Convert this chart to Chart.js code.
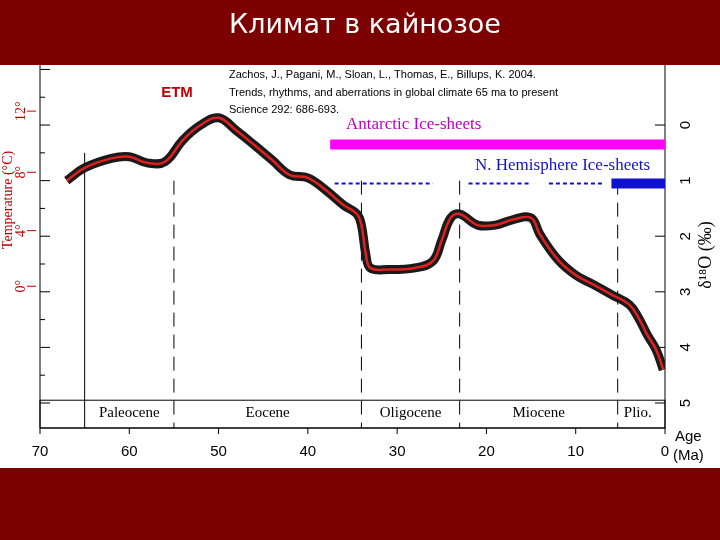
<!DOCTYPE html>
<html><head><meta charset="utf-8">
<script src="https://cdn.jsdelivr.net/npm/chart.js@4"></script>
<style>html,body{margin:0;padding:0;background:#7d0000}</style>
</head><body>
<canvas id="c" width="720" height="540" style="width:720px;height:540px"></canvas>
<script>
// ---------------- DATA ----------------
const ages = [67, 65, 62, 60, 58, 56, 54, 52, 50, 48, 46, 44, 42, 40, 38, 36, 34.5, 34, 33.5, 33, 31, 28, 26, 25, 24, 23, 21, 19, 17, 15, 14, 12, 10, 8, 6, 4, 3, 2, 1, 0.2];
const d18O = [1.0, 0.77, 0.6, 0.57, 0.68, 0.66, 0.27, 0.0, -0.13, 0.1, 0.36, 0.63, 0.9, 0.95, 1.17, 1.44, 1.6, 1.8, 2.33, 2.57, 2.6, 2.57, 2.45, 2.07, 1.67, 1.6, 1.8, 1.8, 1.7, 1.67, 1.97, 2.42, 2.7, 2.87, 3.05, 3.23, 3.46, 3.77, 4.04, 4.4];
const xTicks = [70, 60, 50, 40, 30, 20, 10, 0];
const yTicks = [0, 1, 2, 3, 4, 5];
const tempLabels = ["0°", "4°", "8°", "12°"];
const tempAt = [2.9, 1.9, 0.85, -0.25];
const epochs = ["Paleocene", "Eocene", "Oligocene", "Miocene", "Plio."];
const epochBounds = [65, 55, 34, 23, 5.3, 0.8];
const dashedAges = [55, 34, 23, 5.3];
const antarcticIce = [37.5, 0];
const northIceDashed = [[37, 26], [22, 15], [13, 7]];
const northIce = [6, 0];

const pts = ages.map((a, i) => ({x: a, y: d18O[i]}));
const seg = (a, b, y) => [{x: a, y: y}, {x: b, y: y}];

const deco = {
  id: "deco",
  beforeDraw(ch) {
    const c = ch.ctx, xs = ch.scales.x, ys = ch.scales.y;
    c.save();
    c.fillStyle = "#7d0000"; c.fillRect(0, 0, 720, 540);
    c.fillStyle = "#fff"; c.fillRect(0, 65, 720, 403);
    c.font = "27px 'DejaVu Sans'"; c.textAlign = "center";
    c.fillText("Климат в кайнозое", 365, 33);
    c.strokeStyle = "#000"; c.lineWidth = 1;
    // epoch band
    const yb1 = ys.getPixelForValue(4.95), yb2 = ys.getPixelForValue(5.45);
    c.strokeRect(xs.left, yb1, xs.right - xs.left, yb2 - yb1);
    c.font = "15px 'Liberation Serif'"; c.fillStyle = "#000";
    for (let i = 0; i < epochs.length; i++) {
      const x1 = xs.getPixelForValue(epochBounds[i]), x2 = xs.getPixelForValue(epochBounds[i + 1]);
      c.fillText(epochs[i], (x1 + x2) / 2, yb1 + 17);
    }
    // vertical lines
    c.beginPath();
    c.moveTo(xs.getPixelForValue(65), ys.getPixelForValue(0.5));
    c.lineTo(xs.getPixelForValue(65), yb2); c.stroke();
    c.setLineDash([14, 8]);
    dashedAges.forEach(a => {
      const x = xs.getPixelForValue(a);
      c.beginPath(); c.moveTo(x, ys.getPixelForValue(1)); c.lineTo(x, yb2); c.stroke();
    });
    c.setLineDash([]);
    // left axis
    c.beginPath(); c.moveTo(xs.left, ch.chartArea.top); c.lineTo(xs.left, yb2); c.stroke();
    for (let v = -1; v <= 5; v += 0.5) {
      const y = ys.getPixelForValue(v);
      c.beginPath(); c.moveTo(xs.left, y); c.lineTo(xs.left + (v % 1 === 0 ? 10 : 5), y); c.stroke();
    }
    // right axis
    c.beginPath(); c.moveTo(xs.right, ch.chartArea.top); c.lineTo(xs.right, yb2); c.stroke();
    c.font = "15px 'Liberation Sans'";
    yTicks.forEach(v => {
      const y = ys.getPixelForValue(v);
      c.beginPath(); c.moveTo(xs.right, y); c.lineTo(xs.right - 10, y); c.stroke();
      c.save(); c.translate(xs.right + 20, y); c.rotate(-Math.PI / 2); c.fillText(String(v), 0, 5); c.restore();
    });
    c.save(); c.translate(705, 255); c.rotate(-Math.PI / 2);
    c.font = "18px 'Liberation Serif'"; c.fillText("δ¹⁸O (‰)", 0, 6); c.restore();
    // x axis
    c.beginPath(); c.moveTo(xs.left, yb2); c.lineTo(xs.right, yb2); c.stroke();
    c.font = "15px 'Liberation Sans'";
    xTicks.forEach(v => {
      const x = xs.getPixelForValue(v);
      c.beginPath(); c.moveTo(x, yb2); c.lineTo(x, yb2 + 6); c.stroke();
      c.fillText(String(v), x, yb2 + 28);
    });
    c.textAlign = "left"; c.fillText("Age", 675, 441); c.fillText("(Ma)", 673, 460);
    // temperature axis
    c.fillStyle = "#c00000"; c.strokeStyle = "#c00000";
    c.textAlign = "center"; c.font = "14px 'Liberation Serif'";
    tempLabels.forEach((t, i) => {
      const y = ys.getPixelForValue(tempAt[i]);
      c.save(); c.translate(20, y); c.rotate(-Math.PI / 2); c.fillText(t, 0, 5); c.restore();
      c.beginPath(); c.moveTo(27, y); c.lineTo(36, y); c.stroke();
    });
    c.save(); c.translate(7, 200); c.rotate(-Math.PI / 2); c.fillText("Temperature (°C)", 0, 5); c.restore();
    // labels
    c.font = "bold 15px 'Liberation Sans'"; c.fillText("ETM", 177, 97);
    c.textAlign = "left"; c.fillStyle = "#000"; c.font = "11px 'Liberation Sans'";
    c.fillText("Zachos, J., Pagani, M., Sloan, L., Thomas, E., Billups, K. 2004.", 229, 78);
    c.fillText("Trends, rhythms, and aberrations in global climate 65 ma to present", 229, 96);
    c.fillText("Science 292: 686-693.", 229, 113);
    c.font = "17px 'Liberation Serif'";
    c.fillStyle = "#c000c0"; c.fillText("Antarctic Ice-sheets", 346, 129);
    c.fillStyle = "#1010d0"; c.fillText("N. Hemisphere Ice-sheets", 475, 170);
    c.restore();
  }
};

new Chart(document.getElementById("c"), {
  type: "line",
  data: {
    datasets: [
      {data: pts, borderColor: "#e02020", borderWidth: 2.5, pointRadius: 0, tension: 0.4},
      {data: pts, borderColor: "#1a1a1a", borderWidth: 9, pointRadius: 0, tension: 0.4},
      {data: seg(antarcticIce[0], antarcticIce[1], 0.35), borderColor: "#ff00ff", borderWidth: 10, pointRadius: 0},
      ...northIceDashed.map(s => ({data: seg(s[0], s[1], 1.05), borderColor: "#1010d0", borderWidth: 2, borderDash: [4, 3], pointRadius: 0})),
      {data: seg(northIce[0], northIce[1], 1.05), borderColor: "#1010d0", borderWidth: 10, pointRadius: 0}
    ]
  },
  options: {
    responsive: false, animation: false,
    layout: {padding: {left: 40, right: 55, top: 65, bottom: 112}},
    plugins: {legend: {display: false}, tooltip: {enabled: false}},
    scales: {
      x: {type: "linear", reverse: true, min: 0, max: 70, display: false},
      y: {reverse: true, min: -1.08, max: 5.45, display: false}
    }
  },
  plugins: [deco]
});
</script>
</body></html>
